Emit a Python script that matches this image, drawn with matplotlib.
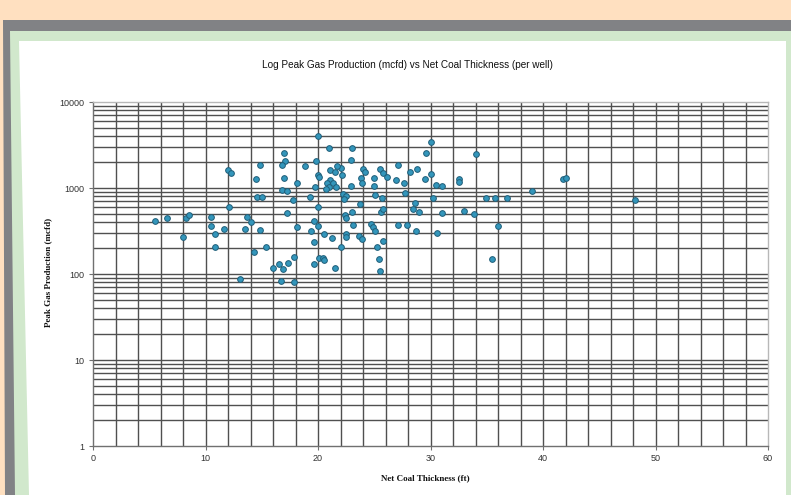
import matplotlib
matplotlib.use("Agg")
import matplotlib.pyplot as plt
from matplotlib.patches import Polygon
from matplotlib.ticker import FixedLocator, NullFormatter
import numpy as np

# Net coal thickness (ft) and peak gas production (mcfd), one entry per well
thickness = [
    5.5, 6.6, 8.0, 8.3, 8.5, 10.5, 10.5, 10.8, 10.8, 11.6,
    12.0, 12.3, 12.1, 13.1, 13.5, 13.7, 14.0, 14.8, 14.3, 14.6,
    15.0, 15.4, 14.5, 14.8, 16.0, 16.5, 16.9, 17.3, 17.9, 16.7,
    17.9, 17.0, 17.1, 16.8, 17.0, 16.8, 17.2, 17.8, 17.2, 18.1,
    18.1, 18.8, 19.3, 19.6, 20.0, 19.4, 20.5, 21.2, 19.6, 20.1,
    20.4, 20.5, 19.6, 21.5, 22.0, 20.0, 21.0, 23.0, 19.8, 22.9,
    19.7, 20.0, 20.1, 21.1, 21.5, 22.0, 21.7, 22.1, 21.1, 20.8,
    21.3, 21.0, 20.7, 21.6, 22.9, 24.0, 24.2, 23.8, 23.9, 25.0,
    25.0, 25.5, 25.8, 26.1, 26.9, 27.6, 27.1, 28.2, 28.8, 29.5,
    30.0, 29.6, 30.0, 30.5, 31.0, 32.5, 32.5, 20.0, 22.2, 22.5,
    22.3, 23.7, 25.1, 25.7, 27.7, 28.6, 28.4, 29.0, 30.2, 31.0,
    33.0, 23.0, 25.6, 25.8, 22.4, 22.5, 23.1, 22.5, 22.5, 23.6,
    23.9, 24.7, 24.9, 25.1, 25.8, 25.2, 25.4, 25.5, 27.1, 27.9,
    28.7, 30.6, 33.9, 34.0, 34.9, 35.7, 36.8, 39.0, 41.8, 42.0,
    48.2, 35.5, 36.0,
]
peak_gas = [
    413, 448, 269, 448, 490, 460, 361, 292, 206, 334,
    1619, 1494, 601, 87, 334, 460, 402, 325, 180, 786,
    786, 206, 1273, 1850, 117, 131, 114, 134, 158, 83,
    81, 2553, 2060, 1850, 1306, 948, 923, 725, 512, 1143,
    352, 1803, 786, 413, 361, 316, 292, 262, 236, 154,
    154, 145, 131, 117, 206, 4025, 2917, 2917, 2060, 2118,
    1027, 1416, 1342, 1619, 1535, 1709, 1803, 1416, 1239, 1143,
    1143, 1027, 973, 1027, 1055, 1663, 1535, 1306, 1143, 1306,
    1055, 1663, 1494, 1342, 1239, 1143, 1850, 1535, 1663, 1273,
    3427, 2553, 1455, 1084, 1055, 1273, 1175, 601, 851, 807,
    745, 652, 829, 765, 875, 670, 570, 526, 765, 512,
    540, 526, 526, 570, 486, 448, 371, 292, 269, 277,
    255, 381, 352, 316, 242, 206, 149, 108, 371, 371,
    316, 300, 499, 2485, 765, 765, 765, 923, 1273, 1306,
    725, 149, 361,
]

x_ticks = [0, 10, 20, 30, 40, 50, 60]
y_ticks = [1, 10, 100, 1000, 10000]
y_tick_labels = ["1", "10", "100", "1000", "10000"]

title = "Log Peak Gas Production (mcfd) vs Net Coal Thickness (per well)"
x_label = "Net Coal Thickness (ft)"
y_label = "Peak Gas Production (mcfd)"

W, H = 791, 495
fig = plt.figure(figsize=(W / 100, H / 100), dpi=100)
fig.patch.set_facecolor("#ffe0c0")

# Framed background panels (pixel coordinates, y downward)
bg = fig.add_axes([0, 0, 1, 1], zorder=0)
bg.set_xlim(0, W)
bg.set_ylim(H, 0)
bg.axis("off")
bg.add_patch(Polygon([(3, 20), (W, 20), (W, H), (5, H)], closed=True,
                     facecolor="#818285", edgecolor="none"))
bg.add_patch(Polygon([(10, 31), (W, 31), (W, H), (15, H)], closed=True,
                     facecolor="#d1e8cc", edgecolor="none"))
bg.add_patch(Polygon([(19, 41), (786, 41), (786, H), (29, H)], closed=True,
                     facecolor="white", edgecolor="none"))

# Plot area
left, right, top, bottom = 93, 768, 102, 446
ax = fig.add_axes([left / W, (H - bottom) / H, (right - left) / W, (bottom - top) / H],
                  zorder=1)
ax.set_facecolor("white")
ax.set_yscale("log")
ax.set_xlim(0, 60)
ax.set_ylim(1, 10000)

# Grid: vertical every 2 ft, horizontal at every log step
grid_color = "#505050"
for gx in np.arange(2, 60, 2):
    ax.axvline(gx, color=grid_color, lw=1.0, zorder=1)
for dec in [1, 10, 100, 1000]:
    for m in range(1, 10):
        v = dec * m
        if v > 1:
            ax.axhline(v, color=grid_color, lw=1.0, zorder=1)

ax.scatter(thickness, peak_gas, s=17, facecolor="#3396bb", edgecolor="#205e78",
           linewidths=0.7, zorder=3)

for side in ["top", "right"]:
    ax.spines[side].set_color("#b8b8b8")
    ax.spines[side].set_linewidth(1.0)
for side in ["left", "bottom"]:
    ax.spines[side].set_color("#707070")
    ax.spines[side].set_linewidth(1.0)

ax.xaxis.set_major_locator(FixedLocator(x_ticks))
ax.set_xticklabels([str(t) for t in x_ticks])
ax.yaxis.set_major_locator(FixedLocator(y_ticks))
ax.yaxis.set_minor_locator(FixedLocator([]))
ax.yaxis.set_minor_formatter(NullFormatter())
ax.set_yticklabels(y_tick_labels)
ax.tick_params(axis="both", which="major", length=3, width=0.8, color="#707070",
               labelsize=6.5, labelcolor="#333333", pad=3)
for lbl in ax.get_xticklabels() + ax.get_yticklabels():
    lbl.set_family("Liberation Sans")

fig.text(407 / W, 1 - 65 / H, title, ha="center", va="center",
         fontsize=7.2, family="Liberation Sans", color="#111111")
fig.text(425 / W, 1 - 478 / H, x_label, ha="center", va="center",
         fontsize=6.5, family="Liberation Serif", weight="bold", color="#111111")
fig.text(48 / W, 1 - 272 / H, y_label, ha="center", va="center", rotation=90,
         fontsize=6.5, family="Liberation Serif", weight="bold", color="#111111")

fig.savefig("out.png", dpi=100, facecolor=fig.get_facecolor())
